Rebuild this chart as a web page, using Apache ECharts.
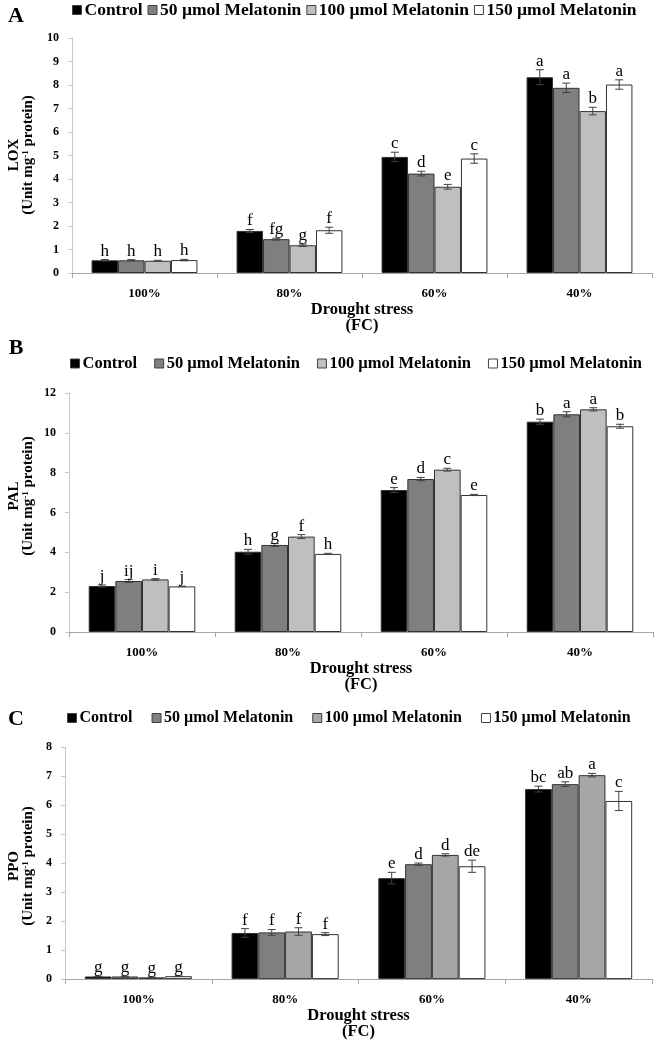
<!DOCTYPE html>
<html><head><meta charset="utf-8">
<script src="https://cdn.jsdelivr.net/npm/echarts@6/dist/echarts.min.js"></script>
<style>html,body{margin:0;padding:0;background:#fff}#c{width:654px;height:1041px}</style>
</head><body><div id="c"></div>
<script>
const categories = ['100%', '80%', '60%', '40%'];
const treatments = ['Control', '50 µmol Melatonin', '100 µmol Melatonin', '150 µmol Melatonin'];

// Panel A: LOX
const loxControl = [0.54, 1.79, 4.94, 8.33];
const lox50 = [0.54, 1.44, 4.23, 7.88];
const lox100 = [0.52, 1.18, 3.67, 6.89];
const lox150 = [0.55, 1.82, 4.87, 8.02];
const loxErrControl = [0.03, 0.06, 0.20, 0.32];
const loxErr50 = [0.03, 0.04, 0.10, 0.20];
const loxErr100 = [0.02, 0.05, 0.10, 0.16];
const loxErr150 = [0.03, 0.13, 0.20, 0.20];
const loxLetControl = ['h', 'f', 'c', 'a'];
const loxLet50 = ['h', 'fg', 'd', 'a'];
const loxLet100 = ['h', 'g', 'e', 'b'];
const loxLet150 = ['h', 'f', 'c', 'a'];

// Panel B: PAL
const palControl = [2.31, 4.03, 7.13, 10.56];
const pal50 = [2.56, 4.37, 7.68, 10.93];
const pal100 = [2.64, 4.79, 8.15, 11.18];
const pal150 = [2.29, 3.92, 6.88, 10.33];
const palErrControl = [0.05, 0.12, 0.12, 0.13];
const palErr50 = [0.07, 0.07, 0.08, 0.13];
const palErr100 = [0.04, 0.10, 0.07, 0.08];
const palErr150 = [0.01, 0.03, 0.03, 0.10];
const palLetControl = ['j', 'h', 'e', 'b'];
const palLet50 = ['ij', 'g', 'd', 'a'];
const palLet100 = ['i', 'f', 'c', 'a'];
const palLet150 = ['j', 'h', 'e', 'b'];

// Panel C: PPO
const ppoControl = [0.09, 1.59, 3.48, 6.55];
const ppo50 = [0.09, 1.61, 3.96, 6.72];
const ppo100 = [0.06, 1.64, 4.28, 7.03];
const ppo150 = [0.10, 1.55, 3.89, 6.14];
const ppoErrControl = [0.01, 0.15, 0.20, 0.10];
const ppoErr50 = [0.01, 0.10, 0.04, 0.08];
const ppoErr100 = [0.01, 0.13, 0.04, 0.06];
const ppoErr150 = [0.01, 0.05, 0.21, 0.33];
const ppoLetControl = ['g', 'f', 'e', 'bc'];
const ppoLet50 = ['g', 'f', 'd', 'ab'];
const ppoLet100 = ['g', 'f', 'd', 'a'];
const ppoLet150 = ['g', 'f', 'de', 'c'];

const yAxisMax = [10, 12, 8];
const yAxisInterval = [1, 2, 1];
const panelLetters = ['A', 'B', 'C'];
const yTitles = ['LOX', 'PAL', 'PPO'];

const FONT = "'Liberation Serif', 'Times New Roman', serif";
const GAP = 0.27;

const panels = [
  { vals: [loxControl, lox50, lox100, lox150], errs: [loxErrControl, loxErr50, loxErr100, loxErr150],
    lets: [loxLetControl, loxLet50, loxLet100, loxLet150], colors: ['#000000', '#7f7f7f', '#bfbfbf', '#ffffff'] },
  { vals: [palControl, pal50, pal100, pal150], errs: [palErrControl, palErr50, palErr100, palErr150],
    lets: [palLetControl, palLet50, palLet100, palLet150], colors: ['#000000', '#7f7f7f', '#bfbfbf', '#ffffff'] },
  { vals: [ppoControl, ppo50, ppo100, ppo150], errs: [ppoErrControl, ppoErr50, ppoErr100, ppoErr150],
    lets: [ppoLetControl, ppoLet50, ppoLet100, ppoLet150], colors: ['#000000', '#7f7f7f', '#a6a6a6', '#ffffff'] }
];

const grids = [
  { left: 72, right: 2, top: 38, height: 235 },
  { left: 69, right: 1, top: 393, height: 239 },
  { left: 65, right: 2, top: 747, height: 238.5 }
];
const xNameGaps = [26, 23, 23.5];
const legendCfg = [
  { top: -4, left: 67, fontSize: 17.5, itemGap: 5 },
  { top: 350, left: 65, fontSize: 16.5, itemGap: 17 },
  { top: 705, left: 62, fontSize: 16, itemGap: 19 }
];
const letterY = [16, 348, 719];
const titleY = [155, 496, 866];

const series = [];
const xAxes = [], yAxes = [], legends = [];
panels.forEach((p, pi) => {
  xAxes.push({
    type: 'category', gridIndex: pi, data: categories,
    axisLine: { lineStyle: { color: '#a6a6a6', width: 1 } },
    axisTick: { show: true, length: 5, lineStyle: { color: '#a6a6a6' } },
    axisLabel: { fontFamily: FONT, fontWeight: 'bold', fontSize: 13, color: '#000', margin: 14 },
    name: 'Drought stress\n(FC)', nameLocation: 'middle', nameGap: xNameGaps[pi],
    nameTextStyle: { fontFamily: FONT, fontWeight: 'bold', fontSize: 16.5, lineHeight: 16, color: '#000', verticalAlign: 'top' }
  });
  yAxes.push({
    type: 'value', gridIndex: pi, min: 0, max: yAxisMax[pi], interval: yAxisInterval[pi],
    splitLine: { show: false },
    axisLine: { show: true, lineStyle: { color: '#c8c8c8' } },
    axisTick: { show: true, length: 4, lineStyle: { color: '#c8c8c8' } },
    axisLabel: { fontFamily: FONT, fontWeight: 'bold', fontSize: 12, color: '#000', margin: 13 }
  });
  const lc = legendCfg[pi];
  legends.push({
    top: lc.top, left: lc.left, itemGap: lc.itemGap, itemWidth: 9, itemHeight: 9, icon: 'rect',
    textStyle: { fontFamily: FONT, fontWeight: 'bold', fontSize: lc.fontSize, color: '#000', padding: [0, 0, 0, -2] },
    data: treatments.map((t, ti) => ({ name: t, itemStyle: { color: p.colors[ti], borderColor: '#404040', borderWidth: 1 } })),
    selectedMode: false
  });
  treatments.forEach((t, ti) => {
    series.push({
      type: 'bar', name: t, xAxisIndex: pi, yAxisIndex: pi,
      data: p.vals[ti], barGap: '0%', barCategoryGap: (GAP * 100) + '%',
      itemStyle: { color: p.colors[ti], borderColor: '#333', borderWidth: 1 },
      silent: true
    });
  });
  const errData = [];
  const letterList = [];
  for (let ti = 0; ti < 4; ti++) {
    for (let c = 0; c < 4; c++) {
      errData.push([c, p.vals[ti][c], p.errs[ti][c], ti]);
      letterList.push(p.lets[ti][c]);
    }
  }
  series.push({
    type: 'custom', xAxisIndex: pi, yAxisIndex: pi, data: errData, silent: true, z: 10,
    encode: { x: 0, y: 1 },
    renderItem: function (params, api) {
      const c = api.value(0), v = api.value(1), e = api.value(2), s = api.value(3);
      const band = api.size([1, 0])[0];
      const bw = band * (1 - GAP) / 4;
      const cx = api.coord([c, v])[0] + (s - 1.5) * bw;
      const yt = api.coord([c, v + e])[1];
      const yb = api.coord([c, v - e])[1];
      const st = { stroke: '#404040', lineWidth: 1 };
      return {
        type: 'group', children: [
          { type: 'line', shape: { x1: cx, y1: yt, x2: cx, y2: yb }, style: st },
          { type: 'line', shape: { x1: cx - 4, y1: yt, x2: cx + 4, y2: yt }, style: st },
          { type: 'line', shape: { x1: cx - 4, y1: yb, x2: cx + 4, y2: yb }, style: st },
          { type: 'text', x: cx, y: yt, style: { text: letterList[params.dataIndex], fontFamily: FONT, fontSize: 17, fill: '#000', align: 'center', verticalAlign: 'bottom' } }
        ]
      };
    }
  });
});

const graphics = [];
panelLetters.forEach((L, i) => {
  graphics.push({ type: 'text', x: 16, y: letterY[i], style: { text: L, fontFamily: FONT, fontWeight: 'bold', fontSize: 22, fill: '#000', align: 'center', verticalAlign: 'middle' } });
  graphics.push({
    type: 'text', x: 21, y: titleY[i], rotation: Math.PI / 2,
    style: {
      text: '{b|' + yTitles[i] + '}\n{b|(Unit mg}{s|-1}{b| protein)}',
      align: 'center', verticalAlign: 'middle',
      rich: {
        b: { fontFamily: FONT, fontWeight: 'bold', fontSize: 15, lineHeight: 14, fill: '#000', color: '#000' },
        s: { fontFamily: FONT, fontWeight: 'bold', fontSize: 9, lineHeight: 14, verticalAlign: 'top', fill: '#000', color: '#000' }
      }
    }
  });
});

const chart = echarts.init(document.getElementById('c'), null, { renderer: 'canvas' });
chart.setOption({
  animation: false,
  backgroundColor: '#fff',
  grid: grids,
  xAxis: xAxes,
  yAxis: yAxes,
  legend: legends,
  series: series,
  graphic: graphics
});
</script>
</body></html>
